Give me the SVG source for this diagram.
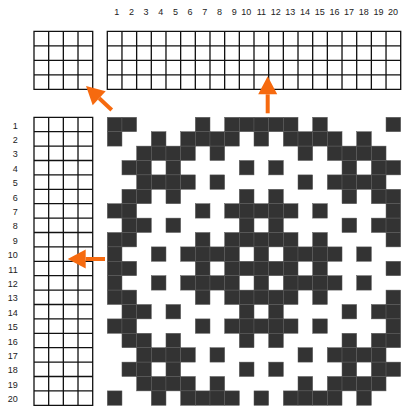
<svg xmlns="http://www.w3.org/2000/svg" xmlns:xlink="http://www.w3.org/1999/xlink" width="411" height="411" viewBox="0 0 411 411">
<style>
.lbl{font-family:"Liberation Sans",Arial,sans-serif;font-size:9px;fill:#222}
.grid{fill:none;stroke:#111;stroke-width:1.3}
.k{fill:#333;stroke:#5a5a5a;stroke-width:0.5}
.arr{stroke:#f66a0f;stroke-width:4;fill:none}
</style>
<defs>
<marker id="ah" markerUnits="userSpaceOnUse" markerWidth="18" markerHeight="19" refX="0" refY="9.5" orient="auto" overflow="visible">
<path d="M0,0 L18,9.5 L0,19 Z" fill="#f66a0f"/>
</marker>
<g id="rowA">
<rect class="k" x="107.3" y="0" width="14.67" height="14.4"/><rect class="k" x="121.97" y="0" width="14.67" height="14.4"/><rect class="k" x="195.32" y="0" width="14.67" height="14.4"/><rect class="k" x="224.66" y="0" width="14.67" height="14.4"/><rect class="k" x="239.33" y="0" width="14.67" height="14.4"/><rect class="k" x="254" y="0" width="14.67" height="14.4"/><rect class="k" x="268.67" y="0" width="14.67" height="14.4"/><rect class="k" x="283.34" y="0" width="14.67" height="14.4"/><rect class="k" x="312.68" y="0" width="14.67" height="14.4"/><rect class="k" x="386.03" y="0" width="14.67" height="14.4"/>
</g>
<g id="rowB">
<rect class="k" x="107.3" y="0" width="14.67" height="14.4"/><rect class="k" x="151.31" y="0" width="14.67" height="14.4"/><rect class="k" x="180.65" y="0" width="14.67" height="14.4"/><rect class="k" x="195.32" y="0" width="14.67" height="14.4"/><rect class="k" x="209.99" y="0" width="14.67" height="14.4"/><rect class="k" x="224.66" y="0" width="14.67" height="14.4"/><rect class="k" x="254" y="0" width="14.67" height="14.4"/><rect class="k" x="283.34" y="0" width="14.67" height="14.4"/><rect class="k" x="298.01" y="0" width="14.67" height="14.4"/><rect class="k" x="312.68" y="0" width="14.67" height="14.4"/><rect class="k" x="327.35" y="0" width="14.67" height="14.4"/><rect class="k" x="356.69" y="0" width="14.67" height="14.4"/>
</g>
<g id="rowC">
<rect class="k" x="136.64" y="0" width="14.67" height="14.4"/><rect class="k" x="151.31" y="0" width="14.67" height="14.4"/><rect class="k" x="165.98" y="0" width="14.67" height="14.4"/><rect class="k" x="180.65" y="0" width="14.67" height="14.4"/><rect class="k" x="209.99" y="0" width="14.67" height="14.4"/><rect class="k" x="298.01" y="0" width="14.67" height="14.4"/><rect class="k" x="327.35" y="0" width="14.67" height="14.4"/><rect class="k" x="342.02" y="0" width="14.67" height="14.4"/><rect class="k" x="356.69" y="0" width="14.67" height="14.4"/><rect class="k" x="371.36" y="0" width="14.67" height="14.4"/>
</g>
<g id="rowD">
<rect class="k" x="121.97" y="0" width="14.67" height="14.4"/><rect class="k" x="136.64" y="0" width="14.67" height="14.4"/><rect class="k" x="165.98" y="0" width="14.67" height="14.4"/><rect class="k" x="239.33" y="0" width="14.67" height="14.4"/><rect class="k" x="268.67" y="0" width="14.67" height="14.4"/><rect class="k" x="342.02" y="0" width="14.67" height="14.4"/><rect class="k" x="371.36" y="0" width="14.67" height="14.4"/><rect class="k" x="386.03" y="0" width="14.67" height="14.4"/>
</g>
</defs>
<rect width="411" height="411" fill="#fff"/>

<g id="column-numbers" class="lbl" text-anchor="end">
<text x="119.3" y="14.5">1</text><text x="134" y="14.5">2</text><text x="148.6" y="14.5">3</text><text x="163.3" y="14.5">4</text><text x="178" y="14.5">5</text><text x="192.6" y="14.5">6</text><text x="207.3" y="14.5">7</text><text x="222" y="14.5">8</text><text x="236.7" y="14.5">9</text><text x="251.3" y="14.5">10</text><text x="266" y="14.5">11</text><text x="280.7" y="14.5">12</text><text x="295.3" y="14.5">13</text><text x="310" y="14.5">14</text><text x="324.7" y="14.5">15</text><text x="339.4" y="14.5">16</text><text x="354" y="14.5">17</text><text x="368.7" y="14.5">18</text><text x="383.4" y="14.5">19</text><text x="398" y="14.5">20</text>
</g>

<g id="row-numbers" class="lbl" text-anchor="end">
<text x="17.7" y="128.6">1</text><text x="17.7" y="143">2</text><text x="17.7" y="157.4">3</text><text x="17.7" y="171.8">4</text><text x="17.7" y="186.2">5</text><text x="17.7" y="200.6">6</text><text x="17.7" y="215">7</text><text x="17.7" y="229.4">8</text><text x="17.7" y="243.8">9</text><text x="17.7" y="258.2">10</text><text x="17.7" y="272.6">11</text><text x="17.7" y="287">12</text><text x="17.7" y="301.4">13</text><text x="17.7" y="315.8">14</text><text x="17.7" y="330.2">15</text><text x="17.7" y="344.6">16</text><text x="17.7" y="359">17</text><text x="17.7" y="373.4">18</text><text x="17.7" y="387.8">19</text><text x="17.7" y="402.2">20</text>
</g>

<g id="tieup">
<path class="grid" d="M34,31.3H92.7V89.3H34Z M48.67,31.3V89.3 M63.34,31.3V89.3 M78.01,31.3V89.3 M34,45.8H92.7 M34,60.3H92.7 M34,74.8H92.7"/>
</g>

<g id="threading">
<path class="grid" d="M107.3,31.3H400.7V89.3H107.3Z M107.3,45.8H400.7 M107.3,60.3H400.7 M107.3,74.8H400.7 M121.97,31.3V89.3 M136.64,31.3V89.3 M151.31,31.3V89.3 M165.98,31.3V89.3 M180.65,31.3V89.3 M195.32,31.3V89.3 M209.99,31.3V89.3 M224.66,31.3V89.3 M239.33,31.3V89.3 M254,31.3V89.3 M268.67,31.3V89.3 M283.34,31.3V89.3 M298.01,31.3V89.3 M312.68,31.3V89.3 M327.35,31.3V89.3 M342.02,31.3V89.3 M356.69,31.3V89.3 M371.36,31.3V89.3 M386.03,31.3V89.3"/>
</g>

<g id="treadling">
<path class="grid" d="M34,117.3H92.7V405.3H34Z M48.67,117.3V405.3 M63.34,117.3V405.3 M78.01,117.3V405.3 M34,131.7H92.7 M34,146.1H92.7 M34,160.5H92.7 M34,174.9H92.7 M34,189.3H92.7 M34,203.7H92.7 M34,218.1H92.7 M34,232.5H92.7 M34,246.9H92.7 M34,261.3H92.7 M34,275.7H92.7 M34,290.1H92.7 M34,304.5H92.7 M34,318.9H92.7 M34,333.3H92.7 M34,347.7H92.7 M34,362.1H92.7 M34,376.5H92.7 M34,390.9H92.7"/>
</g>

<g id="drawdown">
<use xlink:href="#rowA" href="#rowA" y="117.3"/>
<use xlink:href="#rowB" href="#rowB" y="131.7"/>
<use xlink:href="#rowC" href="#rowC" y="146.1"/>
<use xlink:href="#rowD" href="#rowD" y="160.5"/>
<use xlink:href="#rowC" href="#rowC" y="174.9"/>
<use xlink:href="#rowD" href="#rowD" y="189.3"/>
<use xlink:href="#rowA" href="#rowA" y="203.7"/>
<use xlink:href="#rowD" href="#rowD" y="218.1"/>
<use xlink:href="#rowA" href="#rowA" y="232.5"/>
<use xlink:href="#rowB" href="#rowB" y="246.9"/>
<use xlink:href="#rowA" href="#rowA" y="261.3"/>
<use xlink:href="#rowB" href="#rowB" y="275.7"/>
<use xlink:href="#rowA" href="#rowA" y="290.1"/>
<use xlink:href="#rowD" href="#rowD" y="304.5"/>
<use xlink:href="#rowA" href="#rowA" y="318.9"/>
<use xlink:href="#rowD" href="#rowD" y="333.3"/>
<use xlink:href="#rowC" href="#rowC" y="347.7"/>
<use xlink:href="#rowD" href="#rowD" y="362.1"/>
<use xlink:href="#rowC" href="#rowC" y="376.5"/>
<use xlink:href="#rowB" href="#rowB" y="390.9"/>
</g>

<g id="connectors">
<line class="arr" x1="111.7" y1="110" x2="99.2" y2="98.3" marker-end="url(#ah)"/>
<line class="arr" x1="267.7" y1="113.3" x2="267.7" y2="94.3" marker-end="url(#ah)"/>
<line class="arr" x1="105" y1="259" x2="85.7" y2="259" marker-end="url(#ah)"/>
</g>
</svg>
